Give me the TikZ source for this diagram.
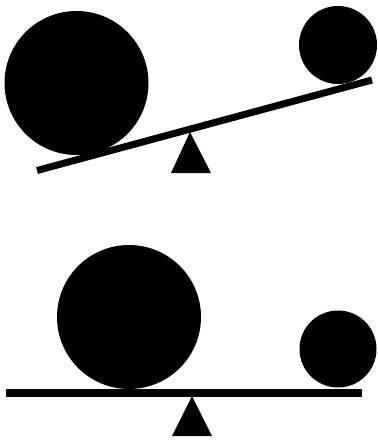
\documentclass[tikz,border=0pt]{standalone}
\usepackage{tikz}
\usetikzlibrary{calc}

\begin{document}
\begin{tikzpicture}[
  x=1pt, y=-1pt,
  ball/.style={fill=black},
  plank/.style={line width=7pt, line cap=butt},
  pivot/.style={fill=black}
]
  \useasboundingbox (0,0) rectangle (378,440);

  % Tilted seesaw
  \coordinate (tl) at (37,170.5);
  \coordinate (tr) at (372,80);
  \draw[plank] (tl) -- (tr);
  \fill[ball] (76.5,83) circle (72);
  \fill[ball] (338,45) circle (39);
  \fill[pivot] (190,132) -- (211,173) -- (171,173) -- cycle;

  % Balanced seesaw
  \coordinate (bl) at (6,392.5);
  \coordinate (br) at (362,392.5);
  \draw[plank, line width=8pt] (bl) -- (br);
  \fill[ball] (129,317) circle (72);
  \fill[ball] (338,349) circle (38.5);
  \fill[pivot] (192,396) -- (212,436) -- (172,436) -- cycle;
\end{tikzpicture}
\end{document}
